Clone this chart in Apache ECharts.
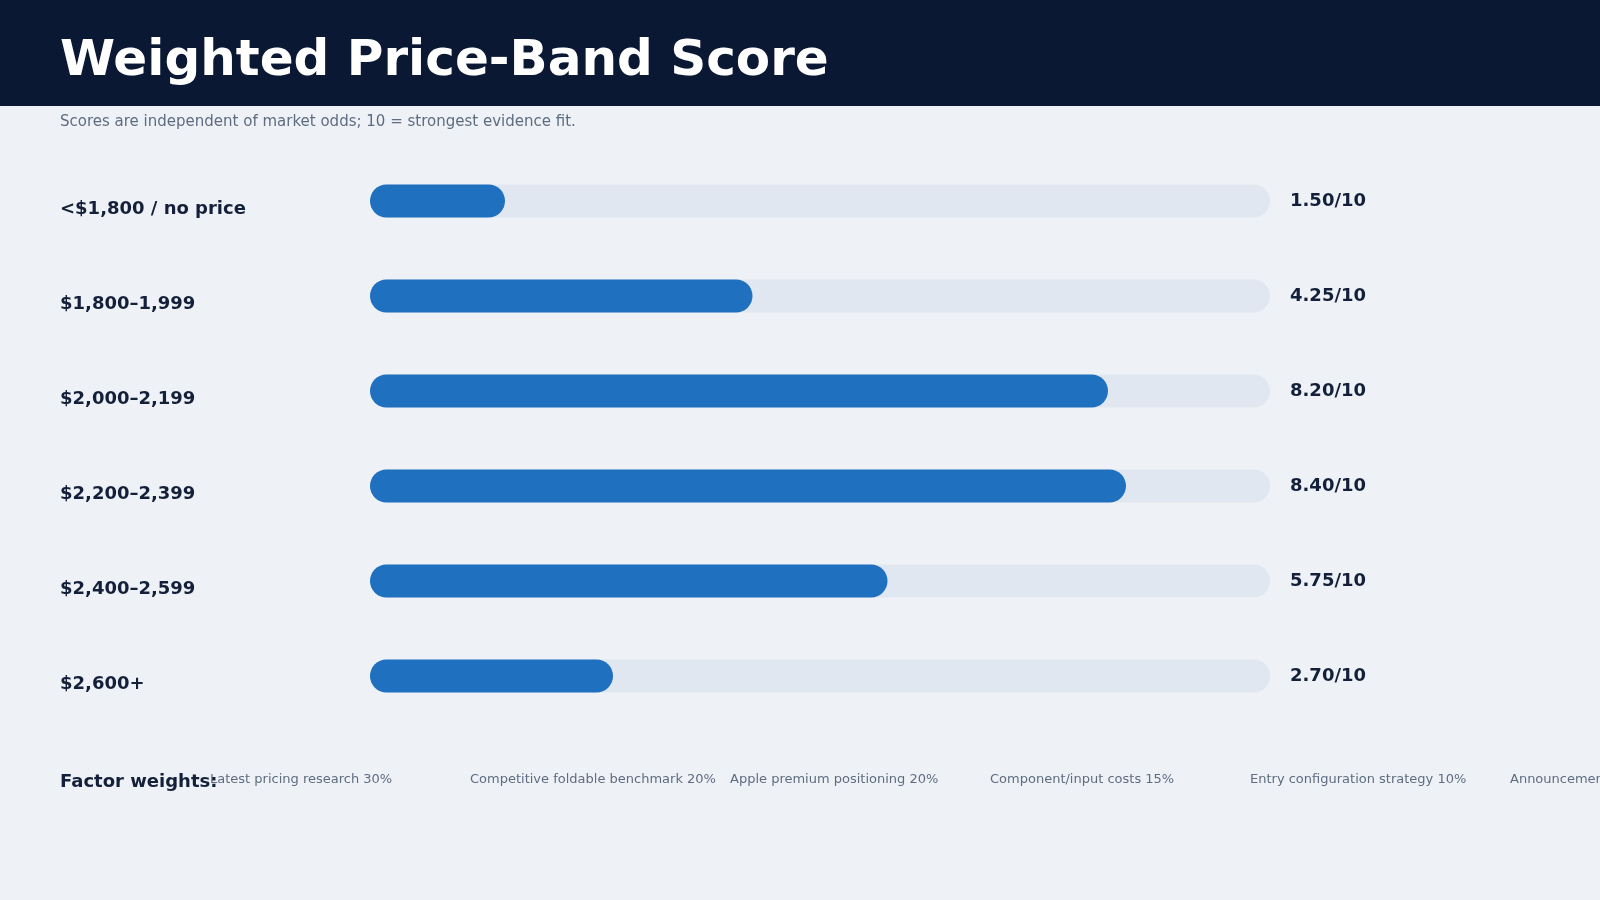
<!DOCTYPE html>
<html>
<head>
<meta charset="utf-8">
<script src="https://cdn.jsdelivr.net/npm/echarts@6/dist/echarts.min.js"></script>
<style>
html,body{margin:0;padding:0;background:#eef2f7;}
#chart{width:1600px;height:900px;}
</style>
</head>
<body>
<div id="chart"></div>
<script>
var categories = ['<$1,800 / no price', '$1,800–1,999', '$2,000–2,199', '$2,200–2,399', '$2,400–2,599', '$2,600+'];
var scores = [1.50, 4.25, 8.20, 8.40, 5.75, 2.70];
var factorWeights = ['Latest pricing research 30%', 'Competitive foldable benchmark 20%', 'Apple premium positioning 20%', 'Component/input costs 15%', 'Entry configuration strategy 10%', 'Announcement timing 5%'];
var titleText = 'Weighted Price-Band Score';
var subtitleText = 'Scores are independent of market odds; 10 = strongest evidence fit.';

var FONT = '"DejaVu Sans", sans-serif';
var chart = echarts.init(document.getElementById('chart'), null, {renderer: 'canvas'});

var graphics = [
  {type: 'rect', left: 0, top: 0, shape: {width: 1600, height: 106}, style: {fill: '#0a1833'}, z: 0},
  {type: 'text', left: 60, top: 37, style: {text: titleText, fill: '#ffffff', font: 'bold 50px ' + FONT}},
  {type: 'text', left: 60, top: 115, style: {text: subtitleText, fill: '#5f6c80', font: '15px ' + FONT}}
];
factorWeights.forEach(function (f, i) {
  graphics.push({type: 'text', x: 210 + i * 260, y: 780, style: {text: f, fill: '#5f6c80', font: '13px ' + FONT, verticalAlign: 'middle'}, z: 1});
});
graphics.push({type: 'text', x: 60, y: 782, style: {text: 'Factor weights:', fill: '#142039', font: 'bold 18px ' + FONT, verticalAlign: 'middle'}, z: 5});

chart.setOption({
  backgroundColor: '#eef2f7',
  animation: false,
  textStyle: {fontFamily: FONT},
  grid: {left: 370, right: 330, top: 153.5, bottom: 176.5, containLabel: false},
  xAxis: {type: 'value', min: 0, max: 10, show: false},
  yAxis: [
    {
      type: 'category', inverse: true, data: categories, position: 'left',
      axisLine: {show: false}, axisTick: {show: false}, splitLine: {show: false},
      axisLabel: {
        align: 'left', margin: 310,
        formatter: function (v) { return '{a|' + v + '}'; },
        rich: {a: {color: '#142039', fontWeight: 'bold', fontSize: 18, fontFamily: FONT, padding: [16, 0, 0, 0]}}
      }
    },
    {
      type: 'category', inverse: true, position: 'right',
      data: scores.map(function (v) { return v.toFixed(2) + '/10'; }),
      axisLine: {show: false}, axisTick: {show: false}, splitLine: {show: false},
      axisLabel: {align: 'left', margin: 20, color: '#142039', fontWeight: 'bold', fontSize: 18, fontFamily: FONT}
    }
  ],
  series: [{
    type: 'bar',
    data: scores,
    barWidth: 33,
    showBackground: true,
    backgroundStyle: {color: '#e0e7f0', borderRadius: 16.5},
    itemStyle: {color: '#1f70bf', borderRadius: 16.5}
  }],
  graphic: graphics
});
</script>
</body>
</html>
